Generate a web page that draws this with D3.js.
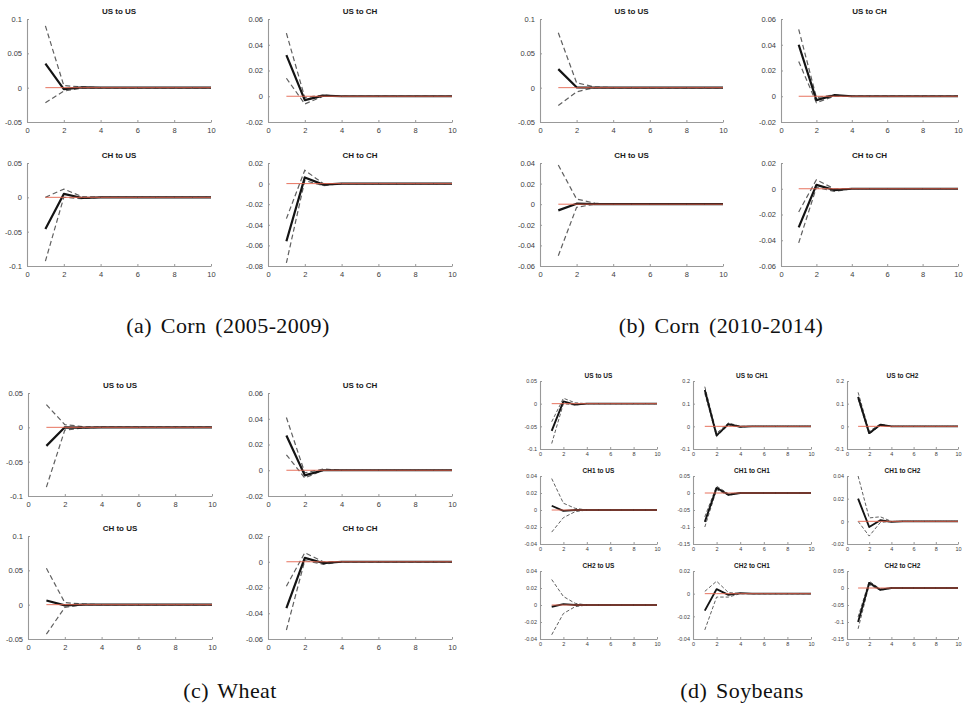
<!DOCTYPE html>
<html><head><meta charset="utf-8">
<script src="https://cdn.jsdelivr.net/npm/d3@7"></script>
<style>
body{margin:0;background:#fff;}
svg{display:block;}
</style></head>
<body>
<svg id="c" width="965" height="706"></svg>
<script>
// ---------- DATA ----------
const steps = [1,2,3,4,5,6,7,8,9,10];
const xTicks = [0,2,4,6,8,10];
const captions = ["(a) Corn (2005-2009)","(b) Corn (2010-2014)","(c) Wheat","(d) Soybeans"];
const titles2 = ["US to US","US to CH","CH to US","CH to CH"];
const titles3 = ["US to US","US to CH1","US to CH2","CH1 to US","CH1 to CH1","CH1 to CH2","CH2 to US","CH2 to CH1","CH2 to CH2"];

// y ticks per panel
const yTicksA = [[-0.05,0,0.05,0.1],[-0.02,0,0.02,0.04,0.06],[-0.1,-0.05,0,0.05],[-0.08,-0.06,-0.04,-0.02,0,0.02]];
const yTicksB = [[-0.05,0,0.05,0.1],[-0.02,0,0.02,0.04,0.06],[-0.06,-0.04,-0.02,0,0.02,0.04],[-0.06,-0.04,-0.02,0,0.02]];
const yTicksC = [[-0.1,-0.05,0,0.05],[-0.02,0,0.02,0.04,0.06],[-0.05,0,0.05,0.1],[-0.06,-0.04,-0.02,0,0.02]];
const yTicksD = [[-0.1,-0.05,0,0.05],[-0.1,0,0.1,0.2],[-0.1,0,0.1,0.2],
                 [-0.04,-0.02,0,0.02,0.04],[-0.15,-0.1,-0.05,0,0.05],[-0.02,0,0.02,0.04],
                 [-0.04,-0.02,0,0.02,0.04],[-0.04,-0.02,0,0.02],[-0.15,-0.1,-0.05,0,0.05]];

// (a) Corn 2005-2009 : response, upper band, lower band
const meanA = [
  [0.035,-0.002,0.0005,0,0,0,0,0,0,0],
  [0.032,-0.003,0.0005,0,0,0,0,0,0,0],
  [-0.046,0.005,-0.001,0,0,0,0,0,0,0],
  [-0.056,0.006,-0.001,0,0,0,0,0,0,0]];
const upperA = [
  [0.09,0.003,0.001,0,0,0,0,0,0,0],
  [0.049,-0.001,0.001,0,0,0,0,0,0,0],
  [0.0,0.012,0.001,0,0,0,0,0,0,0],
  [-0.034,0.013,0.0,0,0,0,0,0,0,0]];
const lowerA = [
  [-0.022,-0.005,-0.0005,0,0,0,0,0,0,0],
  [0.014,-0.006,0,0,0,0,0,0,0,0],
  [-0.093,0.0,-0.002,0,0,0,0,0,0,0],
  [-0.077,0.003,-0.002,0,0,0,0,0,0,0]];

// (b) Corn 2010-2014
const meanB = [
  [0.027,0.0005,0,0,0,0,0,0,0,0],
  [0.04,-0.003,0.0008,0,0,0,0,0,0,0],
  [-0.006,0.0005,0,0,0,0,0,0,0,0],
  [-0.03,0.003,-0.001,0,0,0,0,0,0,0]];
const upperB = [
  [0.08,0.007,0.001,0,0,0,0,0,0,0],
  [0.052,-0.001,0.001,0,0,0,0,0,0,0],
  [0.038,0.005,0.001,0,0,0,0,0,0,0],
  [-0.018,0.007,0.0,0,0,0,0,0,0,0]];
const lowerB = [
  [-0.026,-0.006,0,0,0,0,0,0,0,0],
  [0.027,-0.005,0,0,0,0,0,0,0,0],
  [-0.05,-0.003,0,0,0,0,0,0,0,0],
  [-0.042,0.001,-0.002,0,0,0,0,0,0,0]];

// (c) Wheat
const meanC = [
  [-0.027,0.0,-0.0005,0,0,0,0,0,0,0],
  [0.027,-0.004,0.0,0,0,0,0,0,0,0],
  [0.006,-0.001,0,0,0,0,0,0,0,0],
  [-0.036,0.003,-0.001,0,0,0,0,0,0,0]];
const upperC = [
  [0.033,0.004,0.001,0,0,0,0,0,0,0],
  [0.041,-0.002,0.001,0,0,0,0,0,0,0],
  [0.053,0.003,0.001,0,0,0,0,0,0,0],
  [-0.019,0.007,0.0,0,0,0,0,0,0,0]];
const lowerC = [
  [-0.087,-0.004,-0.001,0,0,0,0,0,0,0],
  [0.012,-0.006,0,0,0,0,0,0,0,0],
  [-0.043,-0.004,0,0,0,0,0,0,0,0],
  [-0.053,0.001,-0.002,0,0,0,0,0,0,0]];

// (d) Soybeans
const meanD = [
  [-0.06,0.005,-0.002,0,0,0,0,0,0,0],
  [0.16,-0.04,0.01,-0.002,0,0,0,0,0,0],
  [0.13,-0.03,0.007,0,0,0,0,0,0,0],
  [0.005,-0.001,0.0,0,0,0,0,0,0,0],
  [-0.085,0.015,-0.005,0,0,0,0,0,0,0],
  [0.02,-0.005,0.001,-0.0005,0,0,0,0,0,0],
  [-0.002,0.001,0.0,0,0,0,0,0,0,0],
  [-0.015,0.004,-0.001,0.0005,0,0,0,0,0,0],
  [-0.1,0.015,-0.005,0,0,0,0,0,0,0]];
const upperD = [
  [-0.04,0.012,0.002,0,0,0,0,0,0,0],
  [0.175,-0.03,0.015,0,0,0,0,0,0,0],
  [0.15,-0.022,0.01,0,0,0,0,0,0,0],
  [0.037,0.008,0.002,0,0,0,0,0,0,0],
  [-0.07,0.02,-0.002,0,0,0,0,0,0,0],
  [0.04,0.003,0.004,0,0,0,0,0,0,0],
  [0.03,0.01,0.002,0,0,0,0,0,0,0],
  [0.002,0.011,0.001,0,0,0,0,0,0,0],
  [-0.085,0.02,-0.003,0,0,0,0,0,0,0]];
const lowerD = [
  [-0.088,0.0,-0.003,0,0,0,0,0,0,0],
  [0.145,-0.045,0.006,-0.003,0,0,0,0,0,0],
  [0.12,-0.035,0.004,0,0,0,0,0,0,0],
  [-0.026,-0.009,-0.002,0,0,0,0,0,0,0],
  [-0.1,0.01,-0.007,0,0,0,0,0,0,0],
  [0.0,-0.013,-0.001,0,0,0,0,0,0,0],
  [-0.035,-0.01,-0.002,0,0,0,0,0,0,0],
  [-0.032,-0.003,-0.003,0,0,0,0,0,0,0],
  [-0.12,0.01,-0.007,0,0,0,0,0,0,0]];

// ---------- LAYOUT ----------
const groups = [
  {xs:[27,268], ws:[184,184], ys:[19,163], h:103, titles:titles2, ticks:yTicksA, mean:meanA, up:upperA, lo:lowerA, fs:7.5, tfs:8, lw:2.2, big:true, cap:captions[0], cx:228, cy:333},
  {xs:[540,781], ws:[183,177], ys:[19,163], h:103, titles:titles2, ticks:yTicksB, mean:meanB, up:upperB, lo:lowerB, fs:7.5, tfs:8, lw:2.2, big:true, cap:captions[1], cx:721, cy:333},
  {xs:[28,268], ws:[184,184], ys:[393,536], h:103, titles:titles2, ticks:yTicksC, mean:meanC, up:upperC, lo:lowerC, fs:7.5, tfs:8, lw:2.2, big:true, cap:captions[2], cx:230, cy:698},
  {xs:[540,693,847], ws:[117,118,111], ys:[381,476,571], h:68, titles:titles3, ticks:yTicksD, mean:meanD, up:upperD, lo:lowerD, fs:5.5, tfs:6.5, lw:1.9, big:false, cap:captions[3], cx:742, cy:698}
];

const svg = d3.select("#c");
const axisCol = "#999", labCol = "#3c3c3c";
const sans = "'Liberation Sans', Arial, Helvetica, sans-serif";

groups.forEach(g => {
  const ncol = g.xs.length;
  g.titles.forEach((title, i) => {
    const r = Math.floor(i / ncol), c = i % ncol;
    const left = g.xs[c], top = g.ys[r], w = g.ws[c];
    const ticks = g.ticks[i];
    const x = d3.scaleLinear().domain([0,10]).range([left, left + w]);
    const y = d3.scaleLinear().domain([d3.min(ticks), d3.max(ticks)]).range([top + g.h, top]);
    const p = svg.append("g");

    const line = d3.line().x((d,k) => x(steps[k])).y(d => y(d));
    [g.up[i], g.lo[i]].forEach(band => {
      p.append("path").attr("d", line(band)).attr("fill","none")
        .attr("stroke","#606060").attr("stroke-width", g.big?1.2:1)
        .attr("stroke-dasharray", g.big?"5,3":"3.5,2");
    });
    p.append("path").attr("d", line(g.mean[i])).attr("fill","none")
      .attr("stroke","#141414").attr("stroke-width", g.lw).attr("stroke-linejoin","round");
    p.append("path").attr("d", line(steps.map(() => 0))).attr("fill","none")
      .attr("stroke","#e4634d").attr("stroke-width", 0.9);

    const ax = p.append("g").attr("transform", `translate(0,${top + g.h})`)
      .call(d3.axisBottom(x).tickValues(xTicks).tickSize(-2).tickSizeOuter(0).tickPadding(g.big?6:3).tickFormat(d => String(d)));
    const ay = p.append("g").attr("transform", `translate(${left},0)`)
      .call(d3.axisLeft(y).tickValues(ticks).tickSize(-2).tickSizeOuter(0).tickPadding(g.big?5:3).tickFormat(d => String(d)));
    [ax, ay].forEach(a => {
      a.select(".domain").attr("stroke", axisCol).attr("stroke-width", 1.1);
      a.selectAll(".tick line").attr("stroke", axisCol);
      a.selectAll("text").attr("fill", labCol).style("font-family", sans).style("font-size", g.fs + "px");
    });

    p.append("text").attr("x", left + w/2).attr("y", top - (g.big?5:3.5))
      .attr("text-anchor","middle").attr("fill","#1a1a1a")
      .style("font-family", sans).style("font-weight","bold")
      .style("font-size", g.tfs + "px").text(title);
  });
  svg.append("text").attr("x", g.cx).attr("y", g.cy).attr("text-anchor","middle")
    .attr("fill","#111").style("font-family","'Liberation Serif', 'DejaVu Serif', serif")
    .style("font-size","22px").style("word-spacing","3px").style("letter-spacing","0.4px")
    .text(g.cap);
});
</script>
</body></html>
